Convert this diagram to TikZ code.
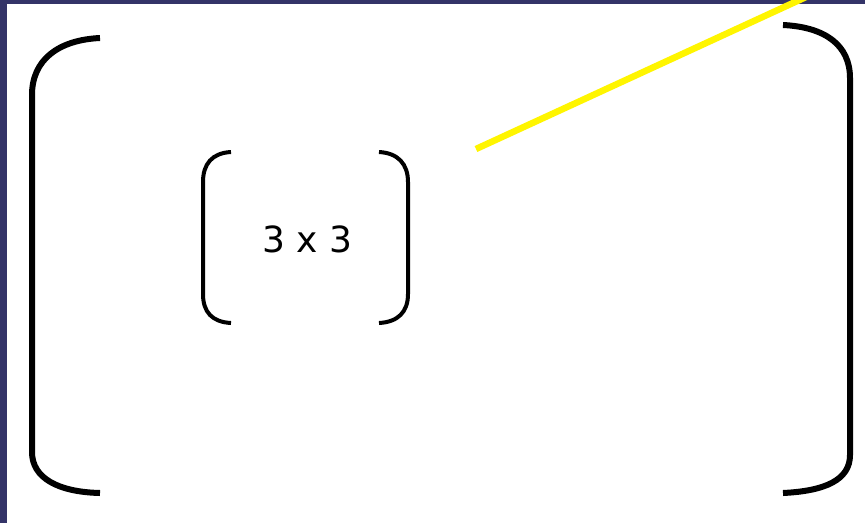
\documentclass[tikz,border=0pt]{standalone}
\usepackage{fontspec}
\setmainfont{DejaVu Sans}
\definecolor{navy}{RGB}{52,52,104}
\definecolor{ylw}{RGB}{255,245,0}
\begin{document}
\begin{tikzpicture}[x=1pt,y=-1pt,
  bigbr/.style={line width=6pt,line cap=butt,black},
  smallbr/.style={line width=4pt,line cap=butt,black},
  label/.style={font=\fontsize{36}{40}\selectfont,text=black,inner sep=0pt}]
\useasboundingbox (0,0) rectangle (865,523);
\fill[white] (0,0) rectangle (865,523);
\fill[navy] (0,0) rectangle (7,523);
\fill[navy] (0,0) rectangle (865,4);
% big left bracket
\draw[bigbr] (100,38) .. controls (58,40) and (32,60) .. (32,95) -- (32,452)
  .. controls (32,478) and (58,492) .. (100,493);
% big right bracket
\draw[bigbr] (783,25) .. controls (825,27) and (850,45) .. (850,78) -- (850,455)
  .. controls (850,480) and (825,491) .. (783,493);
% small left bracket
\draw[smallbr] (231,152) .. controls (212,153) and (203,164) .. (203,182) -- (203,294)
  .. controls (203,312) and (212,322) .. (231,323);
% small right bracket
\draw[smallbr] (379,152) .. controls (398,153) and (408,164) .. (408,182) -- (408,294)
  .. controls (408,312) and (398,322) .. (379,323);
\node[label] (dim) at (307,239) {3 x 3};
% yellow line
\coordinate (ya) at (476,149);
\coordinate (yb) at (806,-3);
\draw[ylw,line width=6.5pt] (ya) -- (yb);
\end{tikzpicture}
\end{document}
